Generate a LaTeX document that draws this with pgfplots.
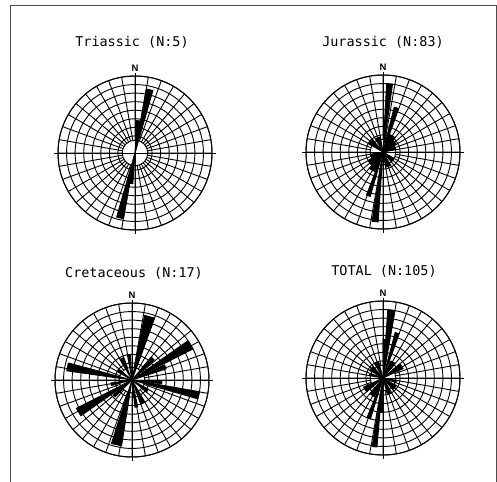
\documentclass[border=0pt]{standalone}
\usepackage{fontspec}
\setmainfont{DejaVu Sans}
\newfontfamily\titlefont{DejaVu Sans Mono}
\newfontfamily\nfont{Liberation Sans}
\usepackage{pgfplots}
\usepgfplotslibrary{polar}
\pgfplotsset{compat=1.18}
\pgfplotsset{
  rose/.style={
    scale only axis, width=154bp, height=154bp,
    anchor=center,
    xmin=0, xmax=360, ymin=0, ymax=9,
    xtick={0,10,...,350}, ytick={2,3,...,9},
    xticklabels={}, yticklabels={},
    major tick length=0pt,
    grid=major,
    major grid style={black, line width=0.9pt},
    axis line style={black, line width=1pt},
    clip=false,
  },
  petal/.style={fill=black, draw=black, line width=0.9pt, line join=round},
}
\newcommand{\rosedeco}{%
  \draw[fill=white, line width=0.9pt] (axis cs:0,0) circle[radius=12.8bp];
  \draw[line width=1pt] (axis cs:0,9.45) -- (axis cs:180,9.45);
  \draw[line width=1pt] (axis cs:90,9.4) -- (axis cs:270,9.45);
  \node[anchor=south, inner sep=0pt, yshift=4bp, font=\nfont\bfseries\fontsize{9.5}{10}\selectfont] at (axis cs:90,9) {N};
}
\begin{document}
\begin{tikzpicture}
\useasboundingbox (0,0) rectangle (497bp,-482bp);
\draw[line width=0.8bp, black!70] (10bp,-482bp) -- (10bp,-5bp) -- (496bp,-5bp) -- (496bp,-482bp);

\tikzset{title/.style={font=\titlefont\fontsize{13.5}{14}\selectfont}}
\node[title] at (132bp,-42bp) {Triassic (N:5)};
\node[title] at (383bp,-42bp) {Jurassic (N:83)};
\node[title] at (134bp,-273bp) {Cretaceous (N:17)};
\node[title] at (384bp,-271bp) {TOTAL (N:105)};

% Triassic
\begin{polaraxis}[rose, at={(135bp,-153bp)}]
\rosedeco
\addplot[petal] coordinates {(0,0) (74,7.6) (80,7.6) (0,0)} --cycle;
\addplot[petal] coordinates {(0,0) (77,3.8) (87,3.8) (0,0)} --cycle;
\addplot[petal] coordinates {(0,0) (254,7.8) (260,7.8) (0,0)} --cycle;
\addplot[petal] coordinates {(0,0) (256,3.6) (266,3.6) (0,0)} --cycle;
\end{polaraxis}

% Jurassic
\begin{polaraxis}[rose, at={(383bp,-152bp)}]
\rosedeco
\addplot[petal] coordinates {(0,0) (82,8.0) (87,8.0) (0,0)} --cycle;
\addplot[petal] coordinates {(0,0) (71,5.4) (76,5.4) (0,0)} --cycle;
\addplot[petal] coordinates {(0,0) (261,8.2) (266,8.2) (0,0)} --cycle;
\addplot[petal] coordinates {(0,0) (249,5.4) (254,5.4) (0,0)} --cycle;
\addplot[petal] coordinates {(0,0) (50,2.2) (70,2.2) (0,0)} --cycle;
\addplot[petal] coordinates {(0,0) (230,2.5) (250,2.5) (0,0)} --cycle;
\addplot[petal] coordinates {(0,0) (30,1.8) (50,1.8) (0,0)} --cycle;
\addplot[petal] coordinates {(0,0) (210,2.0) (230,2.0) (0,0)} --cycle;
\addplot[petal] coordinates {(0,0) (130,2.0) (150,2.0) (0,0)} --cycle;
\addplot[petal] coordinates {(0,0) (310,1.5) (330,1.5) (0,0)} --cycle;
\addplot[petal] coordinates {(0,0) (100,1.8) (120,1.8) (0,0)} --cycle;
\addplot[petal] coordinates {(0,0) (280,1.8) (300,1.8) (0,0)} --cycle;
\addplot[petal] coordinates {(0,0) (10,1.5) (30,1.5) (0,0)} --cycle;
\addplot[petal] coordinates {(0,0) (190,1.5) (210,1.5) (0,0)} --cycle;
\end{polaraxis}

% Cretaceous
\begin{polaraxis}[rose, at={(132bp,-380bp)}]
\rosedeco
\addplot[petal] coordinates {(0,0) (70,7.7) (79,7.7) (0,0)} --cycle;
\addplot[petal] coordinates {(0,0) (27,8.0) (35,8.0) (0,0)} --cycle;
\addplot[petal] coordinates {(0,0) (18,4.2) (25,4.2) (0,0)} --cycle;
\addplot[petal] coordinates {(0,0) (42,3.5) (50,3.5) (0,0)} --cycle;
\addplot[petal] coordinates {(0,0) (353,3.5) (358,3.5) (0,0)} --cycle;
\addplot[petal] coordinates {(0,0) (344,8.0) (350,8.0) (0,0)} --cycle;
\addplot[petal] coordinates {(0,0) (290,3.0) (300,3.0) (0,0)} --cycle;
\addplot[petal] coordinates {(0,0) (276,3.2) (282,3.2) (0,0)} --cycle;
\addplot[petal] coordinates {(0,0) (252,7.8) (261,7.8) (0,0)} --cycle;
\addplot[petal] coordinates {(0,0) (218,2.8) (225,2.8) (0,0)} --cycle;
\addplot[petal] coordinates {(0,0) (207,7.3) (215,7.3) (0,0)} --cycle;
\addplot[petal] coordinates {(0,0) (165,7.7) (172,7.7) (0,0)} --cycle;
\addplot[petal] coordinates {(0,0) (188,2.5) (195,2.5) (0,0)} --cycle;
\addplot[petal] coordinates {(0,0) (112,2.8) (120,2.8) (0,0)} --cycle;
\addplot[petal] coordinates {(0,0) (140,2.0) (150,2.0) (0,0)} --cycle;
\addplot[petal] coordinates {(0,0) (94,3.0) (100,3.0) (0,0)} --cycle;
\addplot[petal] coordinates {(0,0) (320,2.2) (330,2.2) (0,0)} --cycle;
\end{polaraxis}

% TOTAL
\begin{polaraxis}[rose, at={(383bp,-378bp)}]
\rosedeco
\addplot[petal] coordinates {(0,0) (80,8.0) (86,8.0) (0,0)} --cycle;
\addplot[petal] coordinates {(0,0) (70,5.5) (75,5.5) (0,0)} --cycle;
\addplot[petal] coordinates {(0,0) (82,4.5) (90,4.5) (0,0)} --cycle;
\addplot[petal] coordinates {(0,0) (261,8.1) (265,8.1) (0,0)} --cycle;
\addplot[petal] coordinates {(0,0) (248,5.0) (253,5.0) (0,0)} --cycle;
\addplot[petal] coordinates {(0,0) (262,4.0) (270,4.0) (0,0)} --cycle;
\addplot[petal] coordinates {(0,0) (25,2.6) (40,2.6) (0,0)} --cycle;
\addplot[petal] coordinates {(0,0) (205,2.5) (220,2.5) (0,0)} --cycle;
\addplot[petal] coordinates {(0,0) (50,2.2) (65,2.2) (0,0)} --cycle;
\addplot[petal] coordinates {(0,0) (230,2.4) (245,2.4) (0,0)} --cycle;
\addplot[petal] coordinates {(0,0) (130,1.8) (150,1.8) (0,0)} --cycle;
\addplot[petal] coordinates {(0,0) (310,1.8) (330,1.8) (0,0)} --cycle;
\addplot[petal] coordinates {(0,0) (340,1.6) (350,1.6) (0,0)} --cycle;
\addplot[petal] coordinates {(0,0) (160,1.6) (170,1.6) (0,0)} --cycle;
\addplot[petal] coordinates {(0,0) (105,2.0) (120,2.0) (0,0)} --cycle;
\addplot[petal] coordinates {(0,0) (285,2.0) (300,2.0) (0,0)} --cycle;
\end{polaraxis}
\end{tikzpicture}
\end{document}
